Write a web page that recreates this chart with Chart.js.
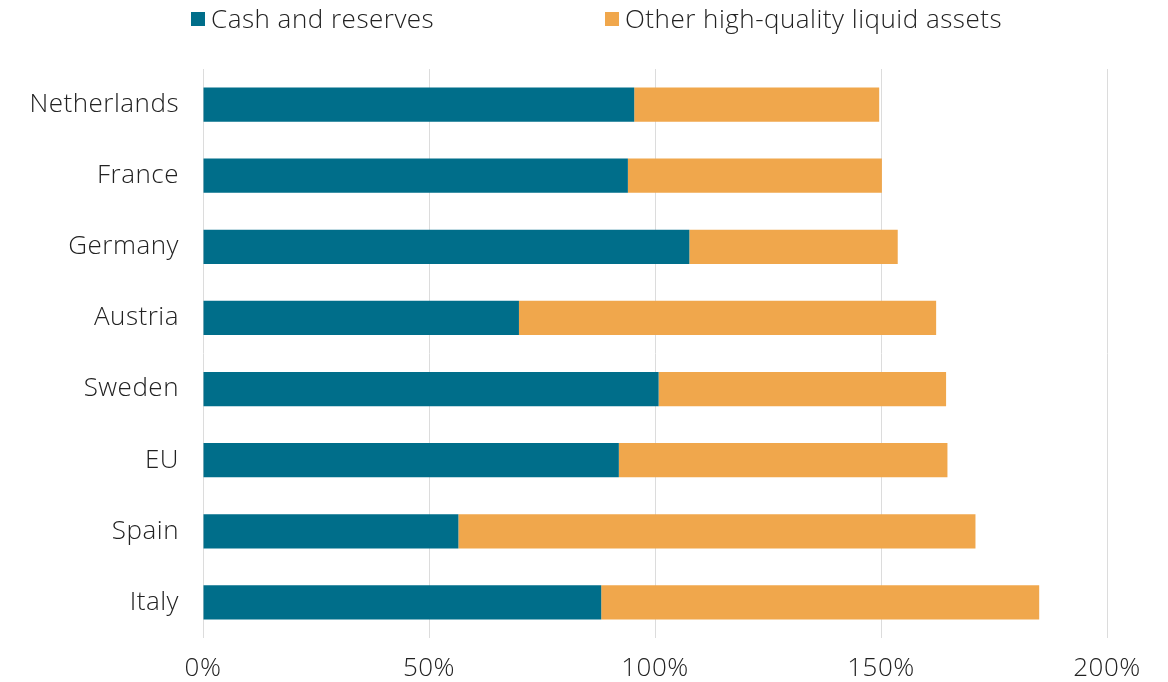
<!DOCTYPE html>
<html>
<head>
<meta charset="utf-8">
<script src="https://cdn.jsdelivr.net/npm/chart.js@4/dist/chart.umd.min.js"></script>
<style>
    html, body { margin: 0; padding: 0; background: #fff; }
    #wrap { position: relative; width: 1168px; height: 682px; }
    .legend { position: absolute; top: 0px; font-family: 'Open Sans', sans-serif; font-weight: 300; font-size: 26px; letter-spacing: 0.5px; color: #222; white-space: nowrap; }
    .legend span.box { display: inline-block; width: 14px; height: 14px; margin-right: 6px; vertical-align: 2px; }
</style>
</head>
<body>
<div id="wrap">
    <canvas id="hqlaChart" width="1168" height="682"></canvas>
    <div class="legend" style="left:191px"><span class="box" style="background:#006E8A"></span>Cash and reserves</div>
    <div class="legend" style="left:605px"><span class="box" style="background:#F0A74C"></span>Other high-quality liquid assets</div>
</div>
<script>
// Countries, top to bottom
const countries = ['Netherlands', 'France', 'Germany', 'Austria', 'Sweden', 'EU', 'Spain', 'Italy'];
// Share of net outflows covered, in percent
const cashReserves = [95.4, 94.0, 107.6, 69.9, 100.8, 92.0, 56.5, 88.1];
const otherHqla = [54.2, 56.2, 46.1, 92.3, 63.6, 72.7, 114.4, 96.9];
const xTicks = [0, 50, 100, 150, 200];

const labelFont = { family: 'Open Sans', size: 26, weight: '300' };

// slightly looser tracking on the axis labels
const letterSpacing = {
    id: 'letterSpacing',
    beforeInit: chart => { chart.ctx.letterSpacing = '0.5px'; },
    beforeDraw: chart => { chart.ctx.letterSpacing = '0.5px'; }
};

function generateStackedBars() {
    const ctx = document.getElementById('hqlaChart').getContext('2d');
    new Chart(ctx, {
        type: 'bar',
        data: {
            labels: countries,
            datasets: [{
                label: 'Cash and reserves',
                data: cashReserves,
                backgroundColor: '#006E8A'
            }, {
                label: 'Other high-quality liquid assets',
                data: otherHqla,
                backgroundColor: '#F0A74C'
            }]
        },
        plugins: [letterSpacing],
        options: {
            indexAxis: 'y',
            responsive: false,
            animation: false,
            categoryPercentage: 1,
            barPercentage: 0.48,
            layout: {
                padding: { top: 69, right: 61, bottom: 0, left: 0 }
            },
            scales: {
                x: {
                    stacked: true,
                    min: 0,
                    max: 200,
                    afterBuildTicks: axis => {
                        axis.ticks = xTicks.map(v => ({ value: v }));
                    },
                    afterFit: axis => { axis.height = 44; },
                    grid: { color: '#dcdcdc', lineWidth: 1, drawTicks: false },
                    border: { display: false },
                    ticks: {
                        font: labelFont,
                        color: '#222',
                        padding: 15,
                        callback: v => v + '%'
                    }
                },
                y: {
                    stacked: true,
                    afterFit: axis => { axis.width = 203; },
                    grid: { display: false, drawTicks: false },
                    border: { display: false },
                    ticks: {
                        font: labelFont,
                        color: '#222',
                        padding: 24
                    }
                }
            },
            plugins: {
                legend: { display: false },
                tooltip: { enabled: false }
            }
        }
    });
}

document.addEventListener('DOMContentLoaded', function() {
    generateStackedBars();
});
</script>
</body>
</html>
